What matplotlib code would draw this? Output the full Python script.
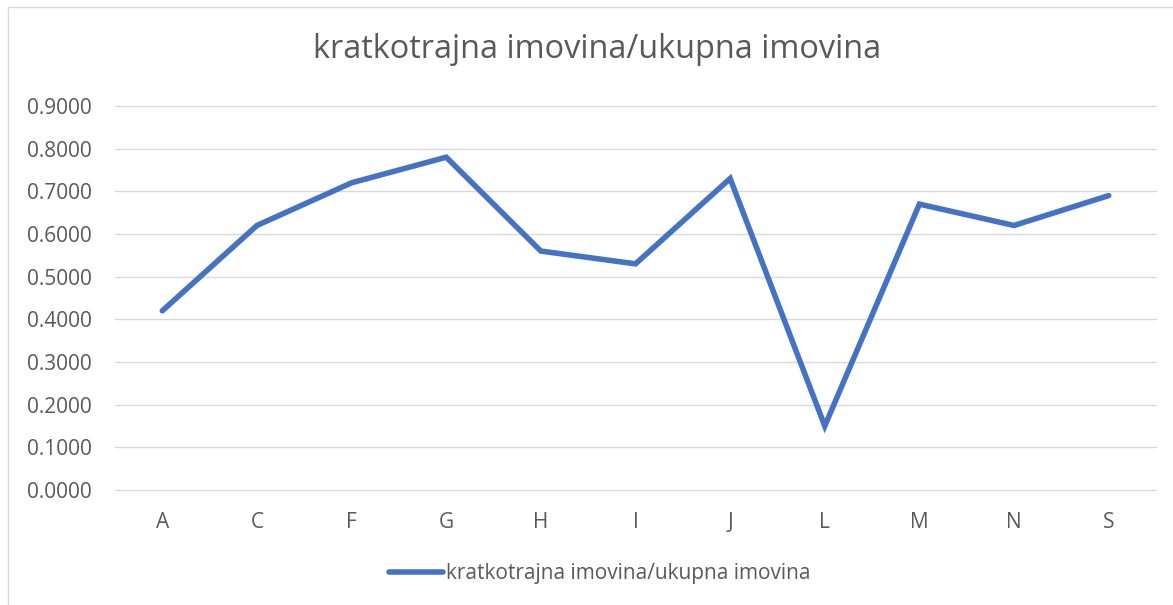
import matplotlib
matplotlib.use("Agg")
import matplotlib.pyplot as plt
from matplotlib.patches import Rectangle

categories = ["A", "C", "F", "G", "H", "I", "J", "L", "M", "N", "S"]
values = [0.42, 0.62, 0.72, 0.78, 0.56, 0.53, 0.73, 0.15, 0.67, 0.62, 0.69]
yticks = [0.0, 0.1, 0.2, 0.3, 0.4, 0.5, 0.6, 0.7, 0.8, 0.9]
title = "kratkotrajna imovina/ukupna imovina"
series_name = "kratkotrajna imovina/ukupna imovina"

W, H = 1173, 605
fig = plt.figure(figsize=(W / 100, H / 100), dpi=100)
plt.rcParams['font.family'] = ['Open Sans', 'DejaVu Sans']

# chart border
fig.patches.append(Rectangle((8 / W, -0.1), 1.2, 1.1 - 7 / H, transform=fig.transFigure,
                             fill=False, edgecolor="#D9D9D9", linewidth=1.0))

ax = fig.add_axes([115 / W, 1 - 490 / H, (1156 - 115) / W, (490 - 106) / H])
x = list(range(len(categories)))
ax.plot(x, values, color="#4472C4", linewidth=4.0, solid_joinstyle="miter",
        solid_capstyle="round", label=series_name)
ax.set_xlim(-0.5, len(categories) - 0.5)
ax.set_ylim(0, 0.9)
ax.set_yticks(yticks)
ax.set_yticklabels([f"{v:.4f}" for v in yticks])
ax.set_xticks(x)
ax.set_xticklabels(categories)
ax.grid(axis="y", color="#D9D9D9", linewidth=1.0)
for gl in ax.get_ygridlines():
    gl.set_clip_on(False)
ax.set_axisbelow(True)
for s in ax.spines.values():
    s.set_visible(False)
ax.tick_params(axis="both", length=0, labelsize=15, colors="#595959")
ax.tick_params(axis="y", pad=16.5)
ax.tick_params(axis="x", pad=16)

fig.text(597 / W, 1 - 50 / H, title, ha="center", va="center", fontsize=23.4, color="#595959")

leg = fig.legend(loc="center", bbox_to_anchor=(600 / W, 1 - 574 / H), frameon=False,
                 fontsize=15, handlelength=2.6, handletextpad=0.15, labelcolor="#595959")

fig.savefig("out.png", dpi=100)
